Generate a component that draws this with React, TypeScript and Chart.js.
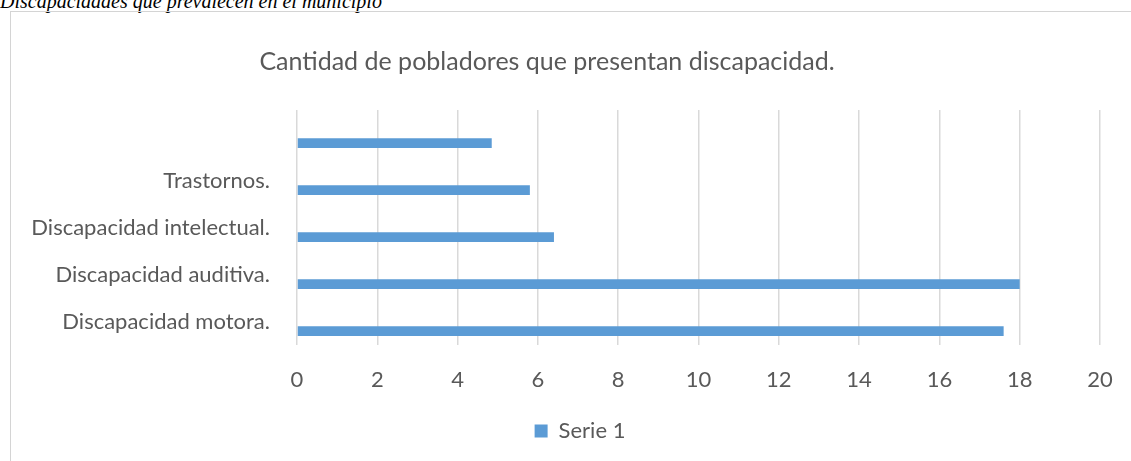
import React, { useEffect, useRef } from 'react';
import { Chart, registerables } from 'chart.js';

Chart.register(...registerables);

// Categories listed top-to-bottom as displayed
const categories: string[] = ['', 'Trastornos.', 'Discapacidad intelectual.', 'Discapacidad auditiva.', 'Discapacidad motora.'];
const serie1Values: number[] = [4.85, 5.8, 6.4, 18, 17.6];
// The workbook's other two series are empty; they only reserve their bar slots.
const serie2Values: (number | null)[] = [null, null, null, null, null];
const serie3Values: (number | null)[] = [null, null, null, null, null];
const xMin = 0;
const xMax = 20;
const xStep = 2;

const captionText = 'Discapacidades que prevalecen en el municipio';
const chartTitle = 'Cantidad de pobladores que presentan discapacidad.';

const TEXT = '#595959';
const FONT = 'Lato, Carlito, Calibri, sans-serif';

export default function App() {
  const ref = useRef<HTMLCanvasElement>(null);

  useEffect(() => {
    if (!ref.current) return;
    const chart = new Chart(ref.current, {
      type: 'bar',
      data: {
        labels: categories,
        datasets: [
          { label: 'Serie 3', data: serie3Values as any, backgroundColor: '#A5A5A5' },
          { label: 'Serie 2', data: serie2Values as any, backgroundColor: '#ED7D31' },
          { label: 'Serie 1', data: serie1Values, backgroundColor: '#5B9BD5' },
        ],
      },
      options: {
        indexAxis: 'y',
        responsive: false,
        animation: false,
        devicePixelRatio: 1,
        layout: { padding: { top: 99, left: 0, right: 0, bottom: 29 } },
        datasets: { bar: { categoryPercentage: 0.62, barPercentage: 1 } } as any,
        scales: {
          x: {
            min: xMin,
            max: xMax,
            ticks: { stepSize: xStep, color: TEXT, font: { family: FONT, size: 22 }, padding: 22 },
            grid: { color: '#d9d9d9', lineWidth: 1.5, drawTicks: false },
            border: { display: false },
            afterFit: (s: any) => { s.paddingRight = 50; s.height = 48; },
          },
          y: {
            grid: { display: false, drawTicks: false },
            border: { display: false },
            ticks: { color: TEXT, font: { family: FONT, size: 22 }, padding: 27 },
            afterFit: (s: any) => { s.width = 287; },
          },
        },
        plugins: {
          legend: {
            position: 'bottom',
            labels: {
              filter: (item: any) => item.text === 'Serie 1',
              boxWidth: 13,
              boxHeight: 13,
              padding: 27,
              color: TEXT,
              font: { family: FONT, size: 22 },
            },
          },
          title: { display: false },
          tooltip: { enabled: false },
        },
      },
    });
    return () => chart.destroy();
  }, []);

  return (
    <div style={{ position: 'fixed', left: 0, top: 0, width: 1131, height: 461, overflow: 'hidden', background: '#fff' }}>
      <div
        style={{
          position: 'absolute', left: 0, top: -9, whiteSpace: 'nowrap',
          fontFamily: '"Liberation Serif", "Times New Roman", serif', fontStyle: 'italic',
          fontSize: 20, lineHeight: '20px', color: '#000',
        }}
      >
        {captionText}
      </div>
      <div
        style={{
          position: 'absolute', left: 10, top: 11, width: 1140, height: 500,
          border: '1px solid #d4d4d4', boxSizing: 'content-box', background: 'transparent',
        }}
      />
      <canvas ref={ref} width={1140} height={470} style={{ position: 'absolute', left: 10, top: 11 }} />
      <div
        style={{
          position: 'absolute', left: 0, top: 45, width: 1094, textAlign: 'center',
          fontFamily: FONT, fontSize: 25, lineHeight: '30px', color: TEXT, whiteSpace: 'nowrap',
        }}
      >
        {chartTitle}
      </div>
    </div>
  );
}
